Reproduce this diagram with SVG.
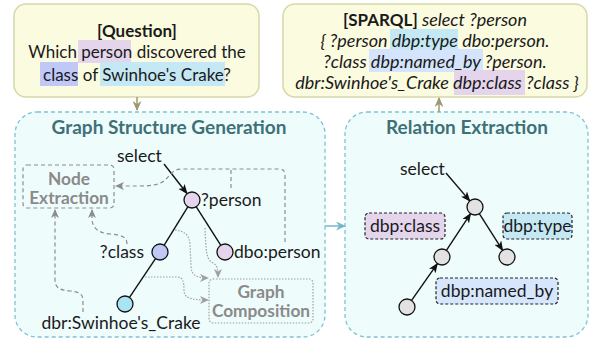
<svg xmlns="http://www.w3.org/2000/svg" width="590" height="340" viewBox="0 0 590 340">
<defs>
<style>
text{font-family:Lato,"Noto Sans",sans-serif;font-size:17.5px;fill:#1a1a1a}
.q{font-size:17px}
.sp{font-size:18px;font-style:italic}
.box{fill:#fbfbe0;stroke:#d6d8a8;stroke-width:1.5}
.panel{fill:#effcfc;stroke:#7cc4d4;stroke-width:1.3;stroke-dasharray:4 3}
.title{font-weight:bold;font-size:19px;fill:#3d7178;text-anchor:middle}
.gt{font-weight:bold;fill:#8a8a8a;text-anchor:middle;font-size:17.3px}
.gbox{fill:none;stroke:#8c8c8c;stroke-width:1.2;stroke-dasharray:4 3}
.dbox{fill:none;stroke:#a0a0a0;stroke-width:1.2;stroke-dasharray:1.5 1.5}
.edge{stroke:#111;stroke-width:1.4;fill:none}
.dash{stroke:#8c8c8c;stroke-width:1.2;stroke-dasharray:4 3;fill:none}
.dot{stroke:#a0a0a0;stroke-width:1.2;stroke-dasharray:1.5 1.5;fill:none}
.node{stroke:#111;stroke-width:1.3}
.rel{stroke:#222;stroke-width:1.2;stroke-dasharray:3 2}
</style>
<marker id="ab" markerWidth="10" markerHeight="8" refX="9" refY="4" orient="auto" markerUnits="userSpaceOnUse"><path d="M0,0 L10,4 L0,8 L2.5,4 z" fill="#111"/></marker>
<marker id="ag" markerWidth="9" markerHeight="8" refX="8" refY="4" orient="auto" markerUnits="userSpaceOnUse"><path d="M0,0 L9,4 L0,8 L2.5,4 z" fill="#8c8c8c"/></marker>
<marker id="ad" markerWidth="9" markerHeight="8" refX="8" refY="4" orient="auto" markerUnits="userSpaceOnUse"><path d="M0,0 L9,4 L0,8 L2.5,4 z" fill="#a0a0a0"/></marker>
<marker id="ao" markerWidth="10" markerHeight="9" refX="9" refY="4.5" orient="auto" markerUnits="userSpaceOnUse"><path d="M0,0 L10,4.5 L0,9 L3,4.5 z" fill="#9a9a72"/></marker>
<marker id="at" markerWidth="10" markerHeight="9" refX="9" refY="4.5" orient="auto" markerUnits="userSpaceOnUse"><path d="M0,0 L10,4.5 L0,9 L3,4.5 z" fill="#78b8c8"/></marker>
</defs>

<g id="question">
<rect class="box" x="14" y="4" width="245" height="93" rx="12"/>
<rect x="78" y="40" width="53" height="23" fill="#e4d4ec"/>
<rect x="40" y="62" width="38" height="24" fill="#c0c8f8"/>
<rect x="100" y="62" width="125" height="24" fill="#c4e8f4"/>
<text class="q" x="137" y="37" text-anchor="middle" font-weight="bold">[Question]</text>
<text class="q" x="137" y="58" text-anchor="middle">Which person discovered the</text>
<text class="q" x="137" y="81" text-anchor="middle">class of Swinhoe's Crake?</text>
</g>

<g id="sparql">
<rect class="box" x="283" y="4" width="304" height="93" rx="12"/>
<rect x="390" y="29" width="68" height="20" fill="#c4e8f4"/>
<rect x="369" y="49" width="114" height="23" fill="#d4e4fc"/>
<rect x="454" y="70" width="71" height="25" fill="#e4d4ec"/>
<text x="435" y="26" text-anchor="middle"><tspan font-weight="bold" font-size="17px">[SPARQL]</tspan><tspan class="sp"> select ?person</tspan></text>
<text x="435" y="47" text-anchor="middle" class="sp">{ ?person dbp:type dbo:person.</text>
<text x="435" y="68" text-anchor="middle" class="sp">?class dbp:named_by ?person.</text>
<text x="437" y="89" text-anchor="middle" class="sp">dbr:Swinhoe's_Crake dbp:class ?class }</text>
</g>

<g id="panel-gsg">
<rect class="panel" x="15" y="112" width="310" height="225" rx="22"/>
<text class="title" x="169" y="134">Graph Structure Generation</text>
</g>

<g id="panel-re">
<rect class="panel" x="345" y="112" width="243" height="225" rx="22"/>
<text class="title" x="467" y="134">Relation Extraction</text>
</g>

<g id="node-extraction">
<rect class="gbox" x="23" y="165" width="91" height="43" rx="4"/>
<text class="gt" x="69" y="185">Node</text>
<text class="gt" x="69" y="204">Extraction</text>
</g>

<g id="graph-composition">
<rect class="dbox" x="209" y="279" width="104" height="44" rx="4"/>
<text class="gt" x="261" y="298">Graph</text>
<text class="gt" x="261" y="317">Composition</text>
</g>

<g id="connectors">
<line x1="137" y1="97" x2="137" y2="110" stroke="#9a9a72" stroke-width="1.5" marker-end="url(#ao)"/>
<line x1="439" y1="112" x2="439" y2="98" stroke="#9a9a72" stroke-width="1.5" marker-end="url(#ao)"/>
<line x1="325" y1="226" x2="345" y2="226" stroke="#78b8c8" stroke-width="1.5" marker-end="url(#at)"/>

<line class="edge" x1="164" y1="164" x2="187" y2="193.5" marker-end="url(#ab)"/>
<line class="edge" x1="187.8" y1="206.8" x2="164.2" y2="245.2"/>
<line class="edge" x1="196.3" y1="206.8" x2="220.7" y2="245.2"/>
<line class="edge" x1="155.5" y1="258.6" x2="129.5" y2="297.4"/>

<path class="dash" d="M285,242 L285,175 Q285,169 279,169 L182,169 C172,169 170,176 165,180 C160,185 150,186 140,186 L116,186" marker-end="url(#ag)"/>
<path class="dash" d="M231,188 L231,169"/>
<path class="dash" d="M127,244 C127,236 120,235 110,234 C98,233 93,228 92,220 L92,210" marker-end="url(#ag)"/>
<path class="dash" d="M83,312 L83,301 C83,293 78,292 70,291 C60,290 55,288 55,280 L55,210" marker-end="url(#ag)"/>

<path class="dot" d="M175,230 C185,231 190,236 190,245 L191,265 C191,275 196,278 208,278" marker-end="url(#ad)"/>
<path class="dot" d="M205,228 C206,250 206,260 213,263 C217,265 218,268 218,277" marker-end="url(#ad)"/>
<path class="dot" d="M145,277 L177,277 C183,277 184,282 184,290 C184,297 188,300 208,300" marker-end="url(#ad)"/>

<line class="edge" x1="446" y1="173" x2="469.8" y2="200.9" marker-end="url(#ab)"/>
<line class="edge" x1="411.6" y1="300.4" x2="437.4" y2="263.6" marker-end="url(#ab)"/>
<line class="edge" x1="446.4" y1="250.3" x2="470.6" y2="213.7" marker-end="url(#ab)"/>
<line class="edge" x1="479.3" y1="213.7" x2="502.7" y2="250.3" marker-end="url(#ab)"/>
</g>

<g id="n-select-l"><text x="117" y="162">select</text></g>
<g id="n-person"><circle class="node" cx="192" cy="200" r="8" fill="#e4d4ec"/><text x="201" y="206">?person</text></g>
<g id="n-class"><circle class="node" cx="160" cy="252" r="8" fill="#c0c8f8"/><text x="144" y="258" text-anchor="end">?class</text></g>
<g id="n-dboperson"><circle class="node" cx="225" cy="252" r="8" fill="#e4d4ec"/><text x="234" y="258">dbo:person</text></g>
<g id="n-dbr"><circle class="node" cx="125" cy="304" r="8" fill="#a8e4f4"/><text x="121" y="329" text-anchor="middle">dbr:Swinhoe's_Crake</text></g>

<g id="r-select"><text x="400" y="175">select</text></g>
<g id="r-top"><circle class="node" cx="475" cy="207" r="8" fill="#e2e2e2"/></g>
<g id="r-mid"><circle class="node" cx="442" cy="257" r="8" fill="#e2e2e2"/></g>
<g id="r-right"><circle class="node" cx="507" cy="257" r="8" fill="#e2e2e2"/></g>
<g id="r-bottom"><circle class="node" cx="407" cy="307" r="8" fill="#e2e2e2"/></g>

<g id="rel-class"><rect class="rel" x="365" y="213" width="80" height="26" rx="4" fill="#e4d4ec"/><text x="405" y="232" text-anchor="middle">dbp:class</text></g>
<g id="rel-type"><rect class="rel" x="503" y="213" width="69" height="26" rx="4" fill="#c4e8f4"/><text x="537.5" y="232" text-anchor="middle">dbp:type</text></g>
<g id="rel-named"><rect class="rel" x="436" y="278" width="122" height="26" rx="4" fill="#d6e6fc"/><text x="497" y="297" text-anchor="middle">dbp:named_by</text></g>
</svg>
